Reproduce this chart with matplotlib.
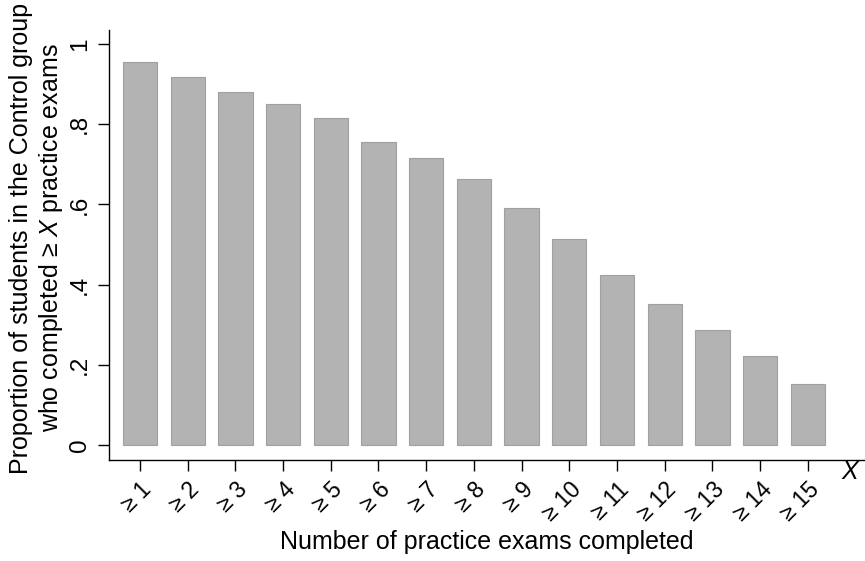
import numpy as np
import matplotlib
matplotlib.use("Agg")
import matplotlib.pyplot as plt

plt.rcParams["font.family"] = ["Liberation Sans", "DejaVu Sans"]
plt.rcParams["mathtext.fontset"] = "custom"
plt.rcParams["mathtext.it"] = "Liberation Sans:italic"
plt.rcParams["mathtext.rm"] = "Liberation Sans"

examenes = np.arange(1, 16)
etiquetas = ["≥ %d" % n for n in examenes]
proporcion = [0.955, 0.918, 0.880, 0.851, 0.815, 0.757, 0.716, 0.663,
              0.591, 0.514, 0.424, 0.352, 0.287, 0.222, 0.152]

fig = plt.figure(figsize=(8.65, 5.61), dpi=100)
ax = fig.add_axes([109 / 865, 1 - 460 / 561, 1 - 109 / 865, (460 - 30) / 561])

ax.bar(examenes, proporcion, width=0.72, color="#b3b3b3", edgecolor="#a0a0a0", linewidth=0.8)

ax.set_xlim(0.35, 16.2)
ax.set_ylim(-0.037, 1.035)
ax.set_yticks([0, 0.2, 0.4, 0.6, 0.8, 1])
ax.set_yticklabels(["0", ".2", ".4", ".6", ".8", "1"], rotation=90, va="center")
ax.set_xticks(examenes)
ax.set_xticklabels(etiquetas, rotation=45, ha="right", va="top", rotation_mode="anchor")

ax.tick_params(axis="both", direction="out", length=8, width=1, colors="black")
ax.tick_params(axis="y", pad=5, labelsize=17.5)
ax.tick_params(axis="x", pad=5, labelsize=16.5)

for lado in ["top", "right"]:
    ax.spines[lado].set_visible(False)
for lado in ["left", "bottom"]:
    ax.spines[lado].set_linewidth(1)

ax.set_xlabel("Number of practice exams completed", fontsize=18)
ax.xaxis.set_label_coords(0.5, -82 / 430)
ax.xaxis.label.set_va("center")

ax.set_ylabel("Proportion of students in the Control group\nwho completed ≥ $\\mathit{X}$ practice exams",
              fontsize=18)
ax.yaxis.set_label_coords(-72 / 756, 0.516)
ax.yaxis.label.set_va("center")

fig.text(850 / 865, 1 - 472 / 561, "X", fontsize=18, style="italic", ha="center", va="center")

fig.savefig("out.png", dpi=100)
